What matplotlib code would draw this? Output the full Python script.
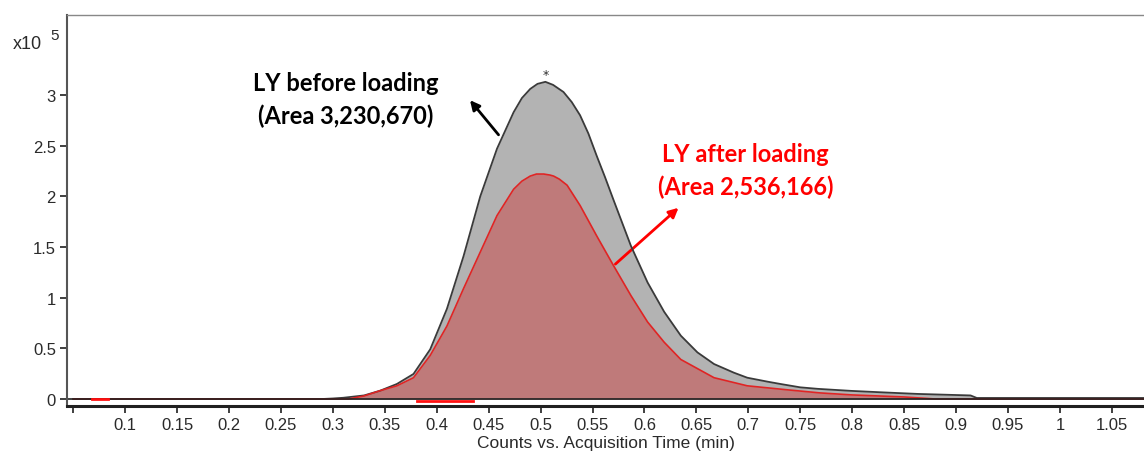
import matplotlib.pyplot as plt
from matplotlib.patches import FancyArrowPatch
from matplotlib.ticker import FixedLocator, FuncFormatter

# chromatogram before loading (time in min, counts x1e5)
t_before = [0.05, 0.29, 0.30, 0.31, 0.33, 0.3455, 0.3616, 0.3776, 0.3937, 0.4098, 0.4258,
            0.4419, 0.458, 0.474, 0.482, 0.490, 0.497, 0.5046, 0.512, 0.522, 0.530, 0.538,
            0.546, 0.554, 0.562, 0.570, 0.587, 0.603, 0.619, 0.635, 0.651, 0.667, 0.686,
            0.699, 0.719, 0.731, 0.750, 0.767, 0.799, 0.830, 0.863, 0.914, 0.92, 1.09]
c_before = [0.0, 0.0, 0.005, 0.012, 0.035, 0.082, 0.148, 0.247, 0.49, 0.89, 1.41,
            2.0, 2.47, 2.83, 2.97, 3.06, 3.11, 3.13, 3.10, 3.03, 2.93, 2.80,
            2.62, 2.40, 2.19, 1.97, 1.51, 1.15, 0.86, 0.625, 0.46, 0.345, 0.26,
            0.21, 0.17, 0.148, 0.115, 0.10, 0.08, 0.065, 0.05, 0.035, 0.01, 0.01]

# chromatogram after loading
t_after = [0.05, 0.315, 0.33, 0.3455, 0.3616, 0.3776, 0.3937, 0.4098, 0.4258, 0.4419,
           0.458, 0.474, 0.482, 0.490, 0.496, 0.503, 0.509, 0.5125, 0.518, 0.5255, 0.538,
           0.554, 0.570, 0.587, 0.603, 0.619, 0.635, 0.651, 0.667, 0.699, 0.738, 0.769,
           0.800, 0.85, 0.88, 1.09]
c_after = [0.0, 0.0, 0.03, 0.082, 0.13, 0.21, 0.43, 0.72, 1.09, 1.45,
           1.81, 2.07, 2.15, 2.20, 2.22, 2.22, 2.21, 2.20, 2.17, 2.11, 1.91,
           1.61, 1.32, 1.02, 0.76, 0.56, 0.39, 0.30, 0.21, 0.13, 0.09, 0.06,
           0.04, 0.02, 0.0, 0.0]

# small red baseline segments
red_seg1_t = [0.0677, 0.083]
red_seg2_t = [0.381, 0.435]

xticks = [0.05, 0.1, 0.15, 0.2, 0.25, 0.3, 0.35, 0.4, 0.45, 0.5, 0.55, 0.6,
          0.65, 0.7, 0.75, 0.8, 0.85, 0.9, 0.95, 1.0, 1.05]
yticks = [0, 0.5, 1, 1.5, 2, 2.5, 3]

fig = plt.figure(figsize=(11.44, 4.56), dpi=100)
ax = fig.add_axes([0.0586, 0.1075, 0.9414, 0.8575])

ax.fill_between(t_before, c_before, 0, color='#b3b3b3', lw=0)
ax.plot(t_before, c_before, color='#3a3a3a', lw=1.3)
ax.fill_between(t_after, c_after, 0, color='#bf7a7a', lw=0)
ax.plot(t_after, c_after, color='#e02424', lw=1.2)
ax.axhline(0, color='#202020', lw=1.2)
ax.plot(red_seg1_t, [0, 0], color='#ff1010', lw=2)
ax.plot(red_seg2_t, [-0.02, -0.02], color='#ff1010', lw=2)

ax.text(0.5046, 3.2, '*', ha='center', va='center', fontsize=9, color='#303030')

ax.text(0.3126, 2.96, 'LY before loading\n(Area 3,230,670)', ha='center', va='center',
        fontsize=17, fontweight='bold', family='Lato', color='black', linespacing=1.45)
ax.text(0.6974, 2.26, 'LY after loading\n(Area 2,536,166)', ha='center', va='center',
        fontsize=17, fontweight='bold', family='Lato', color='#ff0000', linespacing=1.45)

ax.add_patch(FancyArrowPatch((0.4612, 2.586), (0.4303, 2.97), arrowstyle='-|>',
                             mutation_scale=14, color='black', lw=2))
ax.add_patch(FancyArrowPatch((0.570, 1.313), (0.6348, 1.905), arrowstyle='-|>',
                             mutation_scale=14, color='#ff0000', lw=2))

ax.set_xlim(0.044, 1.081)
ax.set_ylim(-0.069, 3.79)

ax.xaxis.set_major_locator(FixedLocator(xticks))
ax.xaxis.set_major_formatter(FuncFormatter(lambda v, p: '' if abs(v - 0.05) < 1e-9 else '%g' % v))
ax.yaxis.set_major_locator(FixedLocator(yticks))
ax.yaxis.set_major_formatter(FuncFormatter(lambda v, p: '%g' % v))
ax.tick_params(axis='both', direction='out', length=5, width=1.3, colors='#303030',
               labelsize=12, labelcolor='#2a2a2a', pad=3)
for lab in ax.get_xticklabels() + ax.get_yticklabels():
    lab.set_family('Liberation Sans')

ax.spines['right'].set_visible(False)
ax.spines['top'].set_color('#888888')
ax.spines['top'].set_linewidth(1)
ax.spines['left'].set_color('#555555')
ax.spines['left'].set_linewidth(1.5)
ax.spines['bottom'].set_color('#202020')
ax.spines['bottom'].set_linewidth(2.2)

ax.set_xlabel('Counts vs. Acquisition Time (min)', fontsize=12.5, family='Liberation Sans',
              color='#2a2a2a', labelpad=2)

fig.text(0.011, 0.893, 'x10', fontsize=13, family='Liberation Sans', color='#2a2a2a')
fig.text(0.044, 0.913, '5', fontsize=11, family='Liberation Sans', color='#2a2a2a')

fig.savefig('out.png', dpi=100)
